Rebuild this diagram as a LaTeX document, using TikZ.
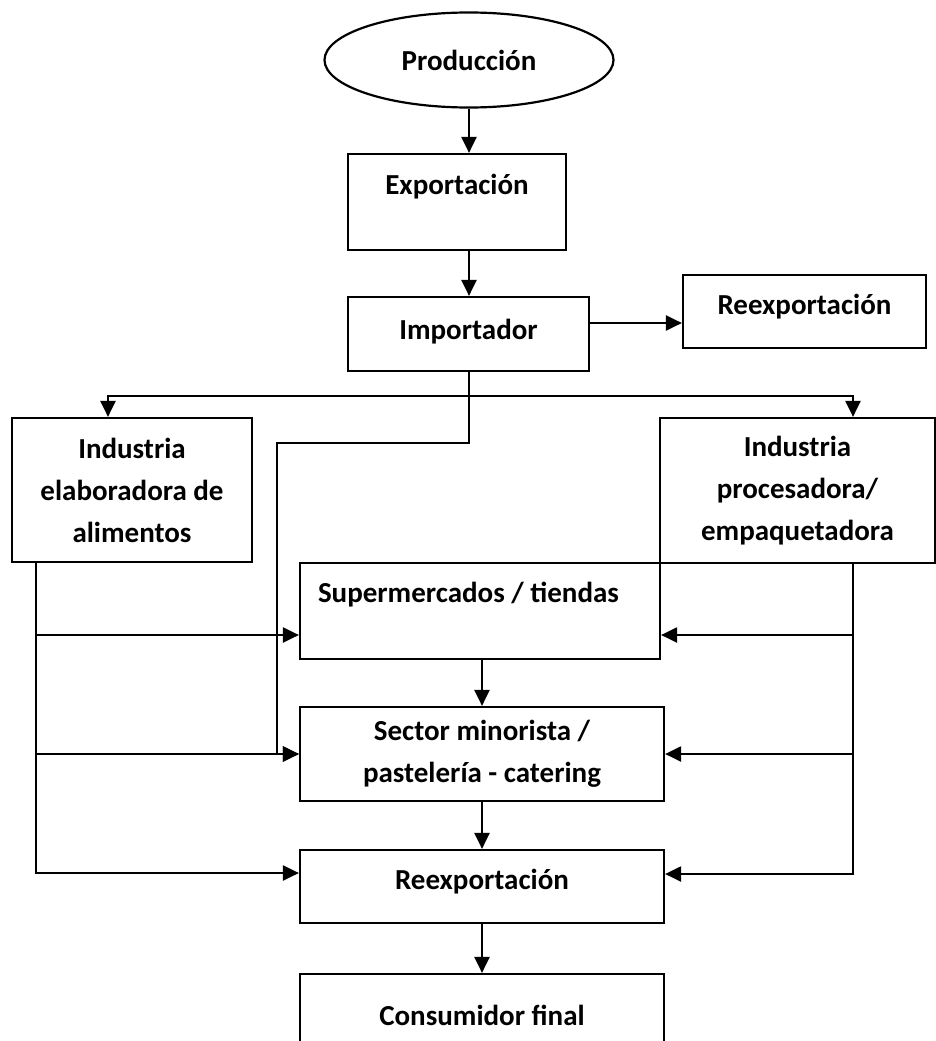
\documentclass[tikz,border=0pt]{standalone}
\usepackage{fontspec}
\setmainfont{Carlito}
\usetikzlibrary{arrows.meta,shapes.geometric}
\begin{document}
\begin{tikzpicture}[x=1pt,y=-1pt,
  box/.style={draw,line width=2.2pt,inner sep=0pt,align=center,font=\fontsize{29}{42}\selectfont\bfseries},
  arr/.style={line width=2.2pt,-{Triangle[length=16pt,width=15pt]}}]
\useasboundingbox (0,0) rectangle (936,1041);
\clip (0,0) rectangle (936,1041);
% boxes
\node[box,ellipse,minimum width=289pt,minimum height=95pt] (prod) at (469,60) {Producción};
\node[box,minimum width=218pt,text height=40pt,text depth=56pt] (expo) at (457,202) {Exportación};
\node[box,minimum width=241pt,text height=42pt,text depth=32pt] (imp) at (468.5,334) {Importador};
\node[box,minimum width=243pt,text height=39pt,text depth=34pt] (reexpA) at (804.5,311.5) {Reexportación};
\node[box,minimum width=240pt,minimum height=144pt] (indA) at (132,490) {Industria\\elaboradora de\\alimentos};
\node[box,minimum width=275pt,minimum height=145pt] (indB) at (797.5,490.5) {Industria\\procesadora/\\empaquetadora};
\node[box,text width=324pt,align=flush left,inner xsep=18pt,text height=39pt,text depth=57pt] (super) at (480,611) {Supermercados / tiendas};
\node[box,minimum width=364pt,minimum height=94pt] (sector) at (482,754) {Sector minorista /\\pastelería - catering};
\node[box,minimum width=364pt,text height=39pt,text depth=34pt] (reexpB) at (482,886.5) {Reexportación};
\node[box,minimum width=364pt,text height=51pt,text depth=49pt] (cons) at (482,1024) {Consumidor final};
% connectors
\coordinate (split) at (469,396);
\coordinate (bend) at (277,443);
\coordinate (lbus) at ([xshift=-96pt]indA.south);
\coordinate (rbus) at ([xshift=55.5pt]indB.south);
\coordinate (superin) at ([yshift=-24pt]super.west);
\coordinate (superout) at ([yshift=-24pt]super.east);
\coordinate (reexin) at ([yshift=13.5pt]reexpB.west);
\coordinate (reexout) at ([yshift=12.5pt]reexpB.east);
\draw[arr] (prod.south) -- (expo.north -| prod.south);
\draw[arr] (expo.south -| prod.south) -- (imp.north -| prod.south);
\draw[arr] ([yshift=11pt]imp.east) -- ([yshift=11pt]imp.east -| reexpA.west);
\draw[arr] (imp.south -| split) -- (split |- bend) -- (bend) |- (sector.west);
\draw[arr] (split) -| ([xshift=-24pt]indA.north);
\draw[arr] (split) -| ([xshift=55.5pt]indB.north);
\draw[arr] (lbus) |- (reexin);
\draw[arr] (lbus |- superin) -- (superin);
\draw[arr] (lbus |- sector.west) -- (sector.west);
\draw[arr] (rbus) |- (reexout);
\draw[arr] (rbus |- superout) -- (superout);
\draw[arr] (rbus |- sector.east) -- (sector.east);
\draw[arr] (sector.north |- super.south) -- (sector.north);
\draw[arr] (sector.south) -- (reexpB.north);
\draw[arr] (reexpB.south) -- (cons.north);
\end{tikzpicture}
\end{document}
